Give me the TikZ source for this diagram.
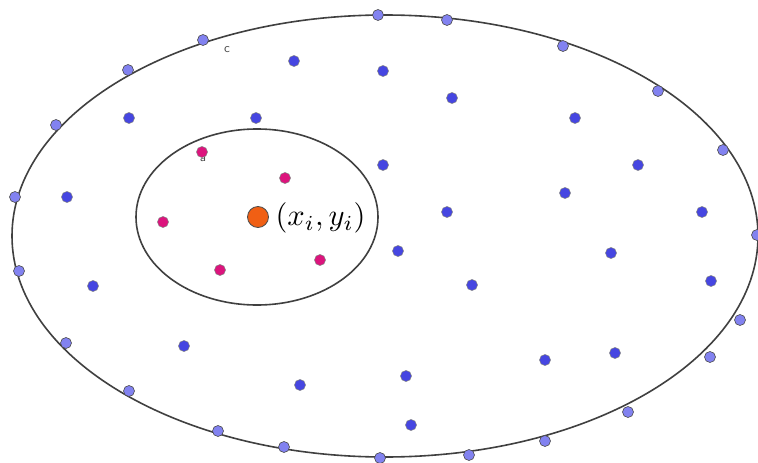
\documentclass[tikz,border=0pt]{standalone}
\begin{document}
\begin{tikzpicture}[x=1pt,y=-1pt,
  edgedot/.style={circle,draw=black!70,line width=0.6pt,fill=rimblue,inner sep=0pt,minimum size=11pt},
  bluedot/.style={circle,draw=black!50,line width=0.5pt,fill=dotblue,inner sep=0pt,minimum size=11pt},
  pinkdot/.style={circle,draw=black!50,line width=0.5pt,fill=dotpink,inner sep=0pt,minimum size=11pt},
  orangedot/.style={circle,draw=black!70,line width=0.8pt,fill=dotorange,inner sep=0pt,minimum size=21pt},
  tinylabel/.style={font=\sffamily,scale=1.3,text=black!70,inner sep=0pt}]
\definecolor{rimblue}{RGB}{130,130,240}
\definecolor{dotblue}{RGB}{70,70,225}
\definecolor{dotpink}{RGB}{220,20,125}
\definecolor{dotorange}{RGB}{240,95,20}
\useasboundingbox (0,0) rectangle (758,463);
\fill[white] (0,0) rectangle (758,463);
% outer boundary and inner neighbourhood
\draw[black!75,line width=1.6pt] (385,236) ellipse [x radius=373, y radius=221];
\draw[black!75,line width=1.6pt] (257,217) ellipse [x radius=121, y radius=88];
% boundary points
\foreach \p [count=\i] in {(378,15),(447,20),(563,46),(658,91),(723,150),(757,235),(740,320),(710,357),(628,412),(545,441),(469,455),(380,458),(284,447),(218,431),(129,391),(66,343),(19,271),(15,197),(56,125),(128,70),(203,40)}
  \node[edgedot] (e\i) at \p {};
% interior points
\foreach \p [count=\i] in {(294,61),(383,71),(452,98),(129,118),(256,118),(575,118),(383,165),(638,165),(67,197),(565,193),(447,212),(702,212),(398,251),(611,253),(93,286),(472,285),(711,281),(184,346),(545,360),(615,353),(406,376),(300,385),(411,425)}
  \node[bluedot] (b\i) at \p {};
% labels
\node[tinylabel] (lc) at (227,50) {c};
\node[tinylabel] (la) at (203,159) {a};
% neighbour points
\foreach \p [count=\i] in {(202,152),(285,178),(163,222),(320,260),(220,270)}
  \node[pinkdot] (n\i) at \p {};
% query point
\node[orangedot] (q) at (258,217) {};
\node[anchor=west,inner sep=0pt,scale=3.05] (ql) at (275,218) {$(x_i,y_i)$};
\end{tikzpicture}
\end{document}
